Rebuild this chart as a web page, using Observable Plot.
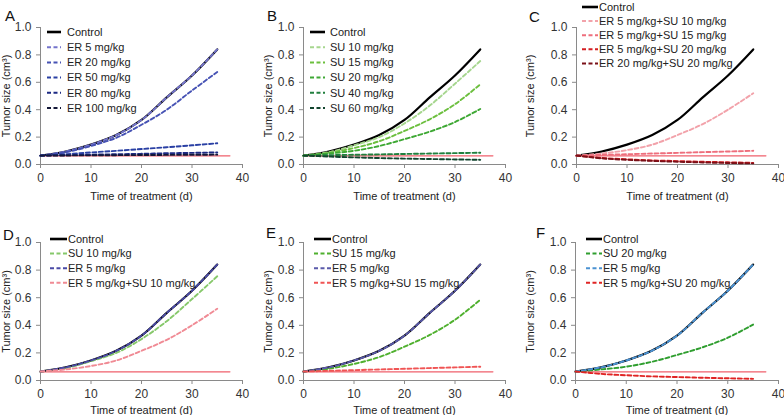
<!DOCTYPE html>
<html>
<head>
<meta charset="utf-8">
<script src="https://cdn.jsdelivr.net/npm/d3@7"></script>
<script src="https://cdn.jsdelivr.net/npm/@observablehq/plot@0.6"></script>
<style>
  html, body { margin: 0; padding: 0; background: #fff; }
  #wrap { position: relative; width: 784px; height: 415px; overflow: hidden; background: #fff;
          font-family: "Liberation Sans", Arial, sans-serif; }
  .panel { position: absolute; }
  .letter { position: absolute; font-size: 15px; line-height: 15px; color: #111; }
  svg { overflow: visible; }
</style>
</head>
<body>
<div id="wrap"></div>
<script>
// ---- data ----
const days = [0, 5, 10, 15, 20, 25, 30, 35];
const control  = [0.065, 0.095, 0.145, 0.215, 0.325, 0.49, 0.65, 0.84];
const er5      = [0.065, 0.095, 0.145, 0.215, 0.325, 0.49, 0.65, 0.84];
const er20     = [0.065, 0.09, 0.135, 0.195, 0.29, 0.40, 0.54, 0.675];
const er50     = [0.065, 0.075, 0.088, 0.10, 0.113, 0.126, 0.14, 0.155];
const er80     = [0.065, 0.068, 0.072, 0.075, 0.078, 0.082, 0.085, 0.088];
const er100    = [0.065, 0.066, 0.067, 0.068, 0.069, 0.07, 0.071, 0.072];
const su10     = [0.065, 0.09, 0.14, 0.20, 0.30, 0.43, 0.59, 0.755];
const su15     = [0.065, 0.085, 0.12, 0.17, 0.245, 0.33, 0.44, 0.585];
const su20     = [0.065, 0.08, 0.10, 0.135, 0.185, 0.24, 0.31, 0.405];
const su40     = [0.065, 0.068, 0.071, 0.074, 0.077, 0.08, 0.083, 0.086];
const su60     = [0.065, 0.058, 0.052, 0.047, 0.043, 0.04, 0.037, 0.034];
const er5su10  = [0.065, 0.08, 0.105, 0.145, 0.215, 0.295, 0.40, 0.52];
const er5su15  = [0.065, 0.07, 0.075, 0.08, 0.085, 0.09, 0.095, 0.10];
const er5su20  = [0.065, 0.048, 0.038, 0.03, 0.025, 0.02, 0.016, 0.012];
const er20su20 = [0.065, 0.045, 0.034, 0.026, 0.02, 0.015, 0.011, 0.008];
const refDays  = [0, 37.5];
const refLevel = [0.063, 0.063];
const xTicks = [0, 10, 20, 30, 40];
const yTicks = [0, 0.2, 0.4, 0.6, 0.8, 1.0];
const xTitle = "Time of treatment (d)";
const yTitle = "Tumor size (cm³)";

// ---- panels ----
const panels = [
  { letter: "A", left: 0, top: 0, w: 262, h: 207, mL: 40, mR: 20, mT: 27, mB: 43, xOff: 35,
    letterPos: [5, 8], legend: { sx: 47, ex: 61, tx: 67, y0: 32, dy: 15.2 },
    series: [
      ["Control", control, "#000000", null],
      ["ER 5 mg/kg", er5, "#7474cc", "4,2.5"],
      ["ER 20 mg/kg", er20, "#4652b4", "4,2.5"],
      ["ER 50 mg/kg", er50, "#2a40a4", "4,2.5"],
      ["ER 80 mg/kg", er80, "#1c2a84", "4,2.5"],
      ["ER 100 mg/kg", er100, "#141838", "4,2.5"]
    ] },
  { letter: "B", left: 262, top: 0, w: 262, h: 207, mL: 41, mR: 19, mT: 27, mB: 43, xOff: 35,
    letterPos: [5, 8], legend: { sx: 48, ex: 63, tx: 68, y0: 32, dy: 15.2 },
    series: [
      ["Control", control, "#000000", null],
      ["SU 10 mg/kg", su10, "#a6d68e", "4,2.5"],
      ["SU 15 mg/kg", su15, "#6cbf3e", "4,2.5"],
      ["SU 20 mg/kg", su20, "#3ea834", "4,2.5"],
      ["SU 40 mg/kg", su40, "#217f3e", "4,2.5"],
      ["SU 60 mg/kg", su60, "#12442e", "4,2.5"]
    ] },
  { letter: "C", left: 524, top: 0, w: 260, h: 207, mL: 52, mR: 6, mT: 27, mB: 43, xOff: 35,
    letterPos: [5, 9], legend: { sx: 58, ex: 74, tx: 75, y0: 7, dy: 14.1 },
    series: [
      ["Control", control, "#000000", null],
      ["ER 5 mg/kg+SU 10 mg/kg", er5su10, "#f2a2aa", "4,2.5"],
      ["ER 5 mg/kg+SU 15 mg/kg", er5su15, "#ee6e7c", "4,2.5"],
      ["ER 5 mg/kg+SU 20 mg/kg", er5su20, "#d41e22", "4,2.5"],
      ["ER 20 mg/kg+SU 20 mg/kg", er20su20, "#7a1018", "4,2.5"]
    ] },
  { letter: "D", left: 0, top: 207, w: 262, h: 208, mL: 40, mR: 20, mT: 35, mB: 35, xOff: 33,
    letterPos: [3, 20], legend: { sx: 50, ex: 67, tx: 68, y0: 32, dy: 14.6 },
    series: [
      ["Control", control, "#000000", null],
      ["SU 10 mg/kg", su10, "#86c86a", "4,2.5"],
      ["ER 5 mg/kg", er5, "#4a4aa6", "4,2.5"],
      ["ER 5 mg/kg+SU 10 mg/kg", er5su10, "#f08a94", "4,2.5"]
    ] },
  { letter: "E", left: 262, top: 207, w: 262, h: 208, mL: 41, mR: 19, mT: 35, mB: 35, xOff: 33,
    letterPos: [4, 18], legend: { sx: 52, ex: 69, tx: 70, y0: 32, dy: 14.6 },
    series: [
      ["Control", control, "#000000", null],
      ["SU 15 mg/kg", su15, "#4fb02e", "4,2.5"],
      ["ER 5 mg/kg", er5, "#5a5aaa", "4,2.5"],
      ["ER 5 mg/kg+SU 15 mg/kg", er5su15, "#f05454", "4,2.5"]
    ] },
  { letter: "F", left: 524, top: 207, w: 260, h: 208, mL: 51, mR: 6, mT: 35, mB: 35, xOff: 33,
    letterPos: [12, 18], legend: { sx: 62, ex: 78, tx: 79, y0: 32, dy: 14.6 },
    series: [
      ["Control", control, "#000000", null],
      ["SU 20 mg/kg", su20, "#2f9e2f", "4,2.5"],
      ["ER 5 mg/kg", er5, "#4b92d2", "4,2.5"],
      ["ER 5 mg/kg+SU 20 mg/kg", er5su20, "#e02424", "4,2.5"]
    ] }
];

const wrap = document.getElementById("wrap");
const refRows = refDays.map((d, i) => ({ day: d, size: refLevel[i] }));

for (const p of panels) {
  const lineMarks = p.series.map(([name, vals, color, dash]) =>
    Plot.line(days.map((d, i) => ({ day: d, size: vals[i] })), {
      x: "day", y: "size", stroke: color,
      strokeWidth: dash ? 1.9 : 2.2,
      strokeDasharray: dash || undefined,
      curve: "catmull-rom"
    })
  );
  const chart = Plot.plot({
    width: p.w, height: p.h,
    marginLeft: p.mL, marginRight: p.mR, marginTop: p.mT, marginBottom: p.mB,
    style: { fontFamily: "'Liberation Sans', Arial, sans-serif", fontSize: "11px", color: "#333", background: "transparent", overflow: "visible" },
    x: { domain: [0, 40] },
    y: { domain: [0, 1] },
    marks: [
      Plot.axisX({ ticks: xTicks, tickSize: 4, stroke: "#8a8a8a", fill: "#333", fontSize: 12,
                   label: null }),
      Plot.axisX({ ticks: [], tickSize: 0, fontSize: 11, fill: "#222",
                   label: xTitle, labelAnchor: "center", labelArrow: "none", labelOffset: p.xOff }),
      Plot.axisY({ ticks: yTicks, tickSize: 4, tickFormat: d3.format(".1f"), stroke: "#8a8a8a", fill: "#333", fontSize: 12,
                   label: null }),
      Plot.axisY({ ticks: [], tickSize: 0, fontSize: 11, fill: "#222",
                   label: yTitle, labelAnchor: "center", labelArrow: "none", labelOffset: p.mL - 2 }),
      Plot.ruleY([0], { stroke: "#8a8a8a", strokeWidth: 1 }),
      Plot.ruleX([0], { stroke: "#8a8a8a", strokeWidth: 1 }),
      Plot.line(refRows, { x: "day", y: "size", stroke: "#f0606c", strokeWidth: 1.3 }),
      ...lineMarks
    ]
  });

  // legend
  const svg = d3.select(chart);
  const lg = svg.append("g")
    .attr("font-family", "'Liberation Sans', Arial, sans-serif")
    .attr("font-size", 11)
    .attr("text-anchor", "start");
  p.series.forEach(([name, vals, color, dash], i) => {
    const y = p.legend.y0 + i * p.legend.dy;
    lg.append("line").attr("x1", p.legend.sx).attr("x2", p.legend.ex)
      .attr("y1", y).attr("y2", y).attr("stroke", color).attr("stroke-width", dash ? 2 : 2.6)
      .attr("stroke-dasharray", dash || null);
    lg.append("text").attr("x", p.legend.tx).attr("y", y).attr("dy", "0.35em")
      .attr("text-anchor", "start").attr("fill", "#222").text(name);
  });

  const div = document.createElement("div");
  div.className = "panel";
  div.style.left = p.left + "px";
  div.style.top = p.top + "px";
  div.appendChild(chart);
  wrap.appendChild(div);

  const L = document.createElement("div");
  L.className = "letter";
  L.style.left = (p.left + p.letterPos[0]) + "px";
  L.style.top = (p.top + p.letterPos[1]) + "px";
  L.textContent = p.letter;
  wrap.appendChild(L);
}
</script>
</body>
</html>
